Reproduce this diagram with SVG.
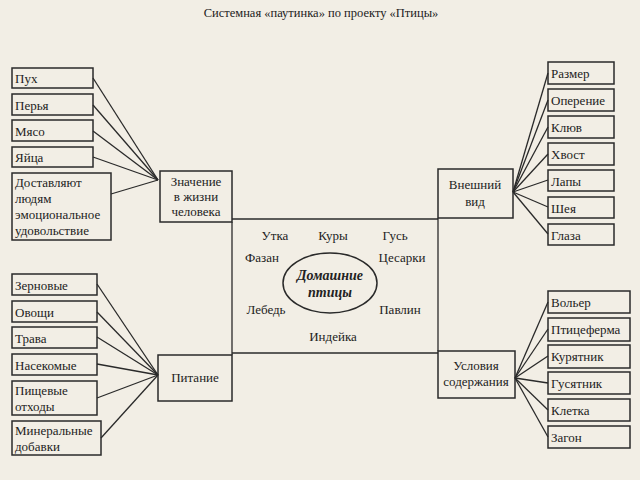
<svg xmlns="http://www.w3.org/2000/svg" width="640" height="480" viewBox="0 0 640 480" font-family="'Liberation Serif', 'Times New Roman', 'DejaVu Serif', serif">
<style>
rect.b{fill:none;stroke:#2a2a2a;stroke-width:1.5}
text{font-family:'Liberation Serif','Times New Roman','DejaVu Serif',serif;font-size:13px;fill:#222}
text.t{font-size:12.5px}
text.e{font-size:14px;font-style:italic;font-weight:bold}
.c line,.c polyline{stroke:#2a2a2a;stroke-width:1.3;fill:none}
</style>
<rect width="640" height="480" fill="#f2eee5"/>
<text class="t" x="321" y="17" text-anchor="middle">Системная «паутинка» по проекту «Птицы»</text>
<g class="c" id="connectors">
<polyline points="232,219 438,219"/>
<polyline points="232,222 232,355"/>
<polyline points="438,218 438,351"/>
<polyline points="232,353 438,353"/>
<line x1="93" y1="78" x2="158" y2="180"/>
<line x1="93" y1="105" x2="158" y2="180"/>
<line x1="93" y1="131" x2="158" y2="180"/>
<line x1="93" y1="157" x2="158" y2="180"/>
<line x1="111" y1="194" x2="158" y2="180"/>
<line x1="97" y1="284" x2="158" y2="375"/>
<line x1="97" y1="312" x2="158" y2="375"/>
<line x1="97" y1="337" x2="158" y2="375"/>
<line x1="97" y1="364" x2="158" y2="375"/>
<line x1="97" y1="398" x2="158" y2="375"/>
<line x1="101" y1="438" x2="158" y2="375"/>
<line x1="548" y1="73" x2="513" y2="192"/>
<line x1="548" y1="100" x2="513" y2="192"/>
<line x1="548" y1="127" x2="513" y2="192"/>
<line x1="548" y1="154" x2="513" y2="192"/>
<line x1="548" y1="180" x2="513" y2="192"/>
<line x1="548" y1="207" x2="513" y2="192"/>
<line x1="548" y1="234" x2="513" y2="192"/>
<line x1="548" y1="302" x2="515" y2="378"/>
<line x1="548" y1="329" x2="515" y2="378"/>
<line x1="548" y1="356" x2="515" y2="378"/>
<line x1="548" y1="383" x2="515" y2="378"/>
<line x1="548" y1="410" x2="515" y2="378"/>
<line x1="548" y1="437" x2="515" y2="378"/>
</g>
<g id="n-znachenie"><rect class="b" x="160" y="171" width="72" height="51"/><text x="196" y="186" text-anchor="middle">Значение</text><text x="196" y="201" text-anchor="middle">в жизни</text><text x="196" y="216" text-anchor="middle">человека</text></g>
<g id="n-vneshniy"><rect class="b" x="438" y="169" width="75" height="49"/><text x="475" y="189" text-anchor="middle">Внешний</text><text x="475" y="206" text-anchor="middle">вид</text></g>
<g id="n-pitanie"><rect class="b" x="158" y="355" width="74" height="46"/><text x="195" y="382" text-anchor="middle">Питание</text></g>
<g id="n-usloviya"><rect class="b" x="438" y="351" width="77" height="47"/><text x="476" y="370" text-anchor="middle">Условия</text><text x="476" y="386" text-anchor="middle">содержания</text></g>
<g id="n-center"><ellipse cx="330" cy="283" rx="47" ry="30" fill="none" stroke="#2a2a2a" stroke-width="1.5"/><text class="e" x="330" y="280" text-anchor="middle">Домашние</text><text class="e" x="330" y="297" text-anchor="middle">птицы</text></g>
<g id="birds" text-anchor="middle">
<text x="275" y="240">Утка</text><text x="333" y="240">Куры</text><text x="395" y="240">Гусь</text>
<text x="262" y="262">Фазан</text><text x="402" y="262">Цесарки</text>
<text x="266" y="314">Лебедь</text><text x="400" y="314">Павлин</text>
<text x="333" y="341">Индейка</text>
</g>
<g id="n-puh"><rect class="b" x="12" y="68" width="81" height="20"/><text x="15" y="83">Пух</text></g>
<g id="n-perya"><rect class="b" x="12" y="94" width="81" height="21"/><text x="15" y="110">Перья</text></g>
<g id="n-myaso"><rect class="b" x="12" y="120" width="81" height="21"/><text x="15" y="136">Мясо</text></g>
<g id="n-yaytsa"><rect class="b" x="12" y="147" width="81" height="20"/><text x="15" y="162">Яйца</text></g>
<g id="n-dost"><rect class="b" x="12" y="173" width="99" height="67"/><text x="15" y="187">Доставляют</text><text x="15" y="203">людям</text><text x="15" y="219">эмоциональное</text><text x="15" y="235">удовольствие</text></g>
<g id="n-zern"><rect class="b" x="12" y="274" width="85" height="21"/><text x="15" y="290">Зерновые</text></g>
<g id="n-ovoshi"><rect class="b" x="12" y="301" width="85" height="21"/><text x="15" y="317">Овощи</text></g>
<g id="n-trava"><rect class="b" x="12" y="327" width="85" height="21"/><text x="15" y="343">Трава</text></g>
<g id="n-nasek"><rect class="b" x="12" y="354" width="85" height="21"/><text x="15" y="370">Насекомые</text></g>
<g id="n-pish"><rect class="b" x="12" y="381" width="85" height="34"/><text x="15" y="395">Пищевые</text><text x="15" y="411">отходы</text></g>
<g id="n-miner"><rect class="b" x="12" y="421" width="89" height="34"/><text x="15" y="435">Минеральные</text><text x="15" y="451">добавки</text></g>
<g id="n-razmer"><rect class="b" x="548" y="62" width="66" height="22"/><text x="551" y="78">Размер</text></g>
<g id="n-operenie"><rect class="b" x="548" y="89" width="66" height="22"/><text x="551" y="105">Оперение</text></g>
<g id="n-klyuv"><rect class="b" x="548" y="116" width="66" height="22"/><text x="551" y="132">Клюв</text></g>
<g id="n-hvost"><rect class="b" x="548" y="143" width="66" height="22"/><text x="551" y="159">Хвост</text></g>
<g id="n-lapy"><rect class="b" x="548" y="170" width="66" height="21"/><text x="551" y="186">Лапы</text></g>
<g id="n-sheya"><rect class="b" x="548" y="197" width="66" height="21"/><text x="551" y="213">Шея</text></g>
<g id="n-glaza"><rect class="b" x="548" y="224" width="66" height="21"/><text x="551" y="240">Глаза</text></g>
<g id="n-volyer"><rect class="b" x="548" y="291" width="82" height="22"/><text x="551" y="307">Вольер</text></g>
<g id="n-ptitsef"><rect class="b" x="548" y="318" width="82" height="23"/><text x="551" y="334">Птицеферма</text></g>
<g id="n-kuryat"><rect class="b" x="548" y="345" width="82" height="23"/><text x="551" y="361">Курятник</text></g>
<g id="n-gusyat"><rect class="b" x="548" y="372" width="82" height="22"/><text x="551" y="388">Гусятник</text></g>
<g id="n-kletka"><rect class="b" x="548" y="399" width="82" height="22"/><text x="551" y="415">Клетка</text></g>
<g id="n-zagon"><rect class="b" x="548" y="426" width="82" height="22"/><text x="551" y="442">Загон</text></g>
</svg>
